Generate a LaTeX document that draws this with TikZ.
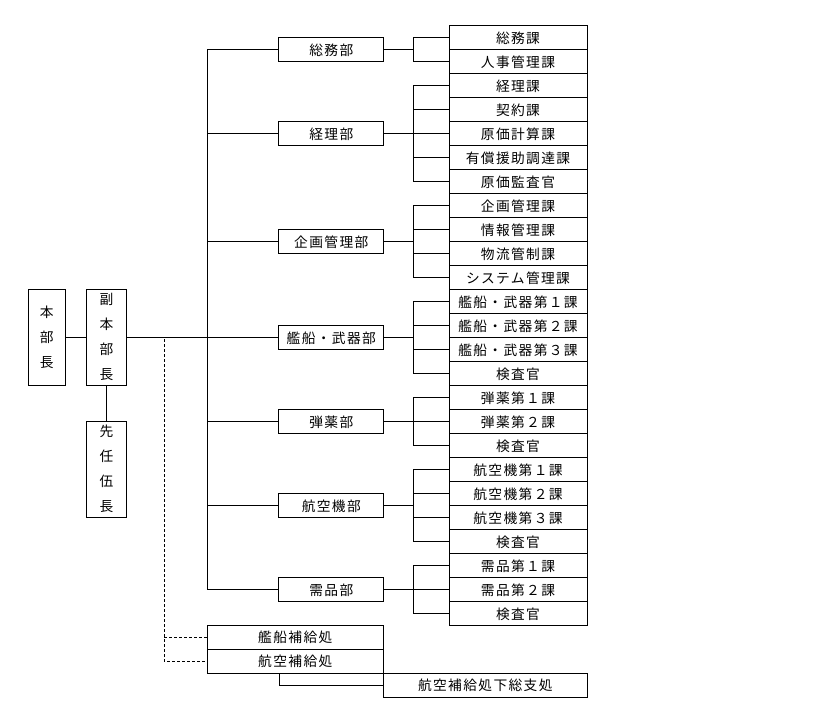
\documentclass[tikz,border=0pt]{standalone}
\usepackage{fontspec}
\newfontfamily\jp[LetterSpace=10]{Noto Sans CJK JP}
\begin{document}
\begin{tikzpicture}[x=0.75pt,y=-0.75pt,
  every node/.style={font=\jp\fontsize{10.3pt}{12pt}\selectfont, inner sep=0pt, text=black},
  box/.style={draw, line width=0.75pt},
  sec/.style={box, minimum width=103.5pt, minimum height=18pt},
  dept/.style={box, minimum width=78.5pt, minimum height=18pt},
  depot/.style={box, minimum width=132pt, minimum height=18pt},
  vbox/.style={box, align=center, font=\jp\fontsize{10.3pt}{18.75pt}\selectfont, minimum height=72pt},
  conn/.style={line width=0.75pt},
  dconn/.style={line width=0.75pt, dash pattern=on 2.25pt off 1.5pt}]
\useasboundingbox (0,0) rectangle (819,723);
\coordinate (bx) at (413,0);
\coordinate (trunk) at (207,0);
\coordinate (kb) at (279.3,0);
% sections
\foreach \t [count=\i from 0] in {総務課,人事管理課,経理課,契約課,原価計算課,有償援助調達課,原価監査官,企画管理課,情報管理課,物流管制課,システム管理課,艦船・武器第１課,艦船・武器第２課,艦船・武器第３課,検査官,弾薬第１課,弾薬第２課,検査官,航空機第１課,航空機第２課,航空機第３課,検査官,需品第１課,需品第２課,検査官}
  \node[sec] (s\i) at (518,{38+24*\i}) {\t};
% departments
\foreach \t/\a/\b [count=\k from 0] in {総務部/0/1,経理部/2/6,企画管理部/7/10,艦船・武器部/11/14,弾薬部/15/17,航空機部/18/21,需品部/22/24} {
  \node[dept] (d\k) at (331.3,{38+12*(\a+\b)}) {\t};
  \draw[conn] (d\k.east) -- (bx |- d\k.east);
  \draw[conn] (bx |- s\a.west) -- (bx |- s\b.west);
  \foreach \i in {\a,...,\b} \draw[conn] (bx |- s\i.west) -- (s\i.west);
  \draw[conn] (trunk |- d\k.west) -- (d\k.west);
}
\draw[conn] (trunk |- d0.west) -- (trunk |- d6.west);
% left
\node[vbox, minimum width=27.75pt] (hon) at (46.8,337.3) {本\\部\\長};
\node[vbox, minimum width=30.3pt] (fuku) at (106.5,337.3) {副\\本\\部\\長};
\node[vbox, minimum width=30.3pt] (senin) at (106.5,469.3) {先\\任\\伍\\長};
\draw[conn] (hon.east) -- (fuku.west);
\draw[conn] (fuku.south) -- (senin.north);
\draw[conn] (fuku.east) -- (trunk |- fuku.east);
\coordinate (dz) at (164.3,339.3);
% depots
\node[depot] (kan) at (295.3,637.3) {艦船補給処};
\node[depot] (kou) at (295.3,661.3) {航空補給処};
\node[box, minimum width=153pt, minimum height=18pt] (shi) at (485.3,685.3) {航空補給処下総支処};
\draw[dconn] (dz) |- (kou.west);
\draw[dconn] (dz |- kan.west) -- (kan.west);
\draw[conn] (kb |- kou.south) |- (shi.west);
\end{tikzpicture}
\end{document}
